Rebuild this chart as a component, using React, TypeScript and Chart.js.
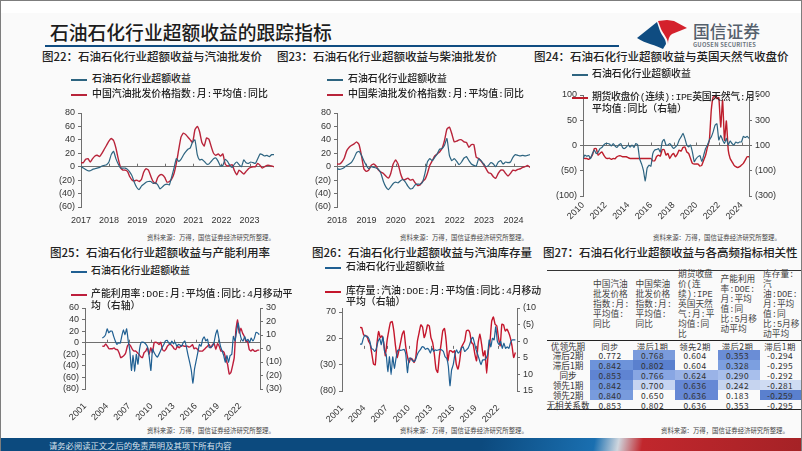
import React, { useEffect, useRef } from "react";
import { Chart, registerables } from "chart.js";
Chart.register(...registerables);

const excess22 = [0,-2,-4,-6,-6,-4,-3,-2,-1,1,2,3,7,18,23,12,4,-2,-2,-2,-4,-8,-14,-24,-31,-34,-29,-26,-23,-22,-22,-25,-24,-27,-33,-30,-27,-26,-27,-15,-2,12,8,11,17,22,26,28,37,40,18,10,11,8,4,4,8,12,13,8,1,2,11,8,2,-1,4,7,3,0,10,6,5,7,6,5,12,19,18,16,17,15,18,18];
const gasoline22 = [6,6,11,12,7,12,16,17,15,20,26,32,38,42,39,28,12,-1,-5,-5,-7,-15,-20,-21,-20,-22,-19,-8,-3,-5,-14,-22,-25,-16,-12,-12,-16,-23,-22,-18,-10,5,25,44,50,48,44,40,36,55,60,52,36,31,43,41,30,20,17,19,16,19,4,1,2,3,-6,-12,-5,-8,-11,-7,-3,-1,0,0,5,2,-2,0,2,2,1,0];
const excess23 = [-3,-4,-3,-1,2,4,7,13,21,23,17,9,2,-3,0,-1,-2,-4,-10,-22,-30,-34,-30,-25,-23,-24,-21,-19,-23,-29,-33,-32,-27,-26,-26,-23,-10,7,12,9,14,19,26,27,32,42,17,9,12,8,3,7,13,15,9,4,2,1,12,9,4,0,2,6,4,0,7,9,4,7,6,7,14,18,17,16,17,16,17,18];
const diesel23 = [4,4,7,13,24,29,32,34,37,33,17,-3,-7,-5,2,4,1,-5,-8,-10,-14,-17,-10,4,10,4,-10,-19,-19,-17,-20,-19,-24,-28,-27,-22,-19,-10,2,9,16,19,22,27,39,56,59,49,37,38,40,40,37,36,29,33,33,14,12,8,3,-3,-9,-10,-15,-17,-10,-5,-5,-10,-14,-10,-5,-6,-4,-3,-1,0,2,-1];
const excess24 = [-26,-19,-21,-20,-26,-16,-9,-16,-13,-6,-4,1,4,4,3,-1,4,-1,-4,1,4,-4,-6,-3,1,-3,1,-4,4,1,-26,-36,-49,-70,-45,-39,-41,-16,-9,-8,-6,-13,7,12,1,1,4,-1,-6,-3,1,11,17,24,14,1,-3,1,-13,-32,-26,-22,-20,-32,-19,-6,1,11,17,27,40,43,11,20,11,4,14,1,9,4,1,7,5,7,7,18,16,18,14];
const gas24 = [3,-3,-3,-10,3,24,76,76,24,37,50,24,3,-3,0,-10,-3,-5,11,18,18,11,11,11,3,-3,-3,-3,-3,-3,-3,-3,-3,-3,-3,-3,-3,-21,-21,11,24,16,68,68,24,37,-3,24,37,11,32,63,55,84,89,50,37,-3,-42,-47,-47,-47,-63,-55,-16,24,89,142,379,484,489,471,479,247,458,142,295,63,-3,-29,-55,-68,-74,-68,-55,-42,-16,11,11];
const excess25 = [8,10,14,24,17,20,20,11,3,-3,0,-1,11,22,14,24,3,-14,-48,-22,-49,-20,-37,-11,1,1,0,-3,-8,-25,-48,-11,-17,-22,-25,-20,-14,-8,-3,3,4,0,-3,3,-2,1,-6,-3,-4,-6,0,3,-8,-22,-34,-48,-70,-45,-31,-17,-3,-6,6,10,3,6,-8,-8,-6,0,14,22,8,-6,-14,-22,-34,-22,-34,-22,-20,11,3,20,34,17,6,3,11,3,6,0,8,3,8,18,17,14];
const utilisation25 = [1.7,1.7,3.4,1.7,-0.2,-0.2,-0.2,0.5,-0.7,-0.7,-3.1,-6.8,-6.1,-5.1,-3.1,1.7,3.4,1.7,-0.7,-1.9,-1.9,-3.1,-4.4,-6.1,-6.8,-3.1,-1.9,0.5,-4.4,0.5,-3.1,4.1,4.6,4.1,2.9,4.6,-0.7,-1.9,-0.7,1.7,2.9,2.9,1.7,-0.2,-0.7,1.7,0.5,1.7,2.2,1.7,1.7,1.7,1,1.7,2.9,-0.2,0.5,-0.7,-1.9,-1.9,-1.9,-0.7,0.5,1.7,2.9,0.5,2.9,3.6,-0.7,3.6,1.7,-1.9,-1.9,-3.1,-8,-11.6,-18.9,-17.7,-12.8,-6.8,13.8,21.1,11.4,15,11.4,9,5.3,5.3,-0.7,-1.9,-0.7,-1.9,-1.9,-1.2,-1.2];
const excess26 = [9,9,20,26,23,22,14,1,-1,-5,1,14,20,8,23,-5,-11,-43,-15,-49,-15,-37,-18,-3,-2,-3,-2,-1,-11,-45,-18,-18,-22,-24,-20,-11,-5,-1,4,3,-1,1,-1,-8,1,-5,-2,-3,-2,-1,-2,-5,-15,-18,-33,-70,-40,-30,-11,-2,-8,-5,1,4,-5,-2,1,8,18,22,11,-2,-11,-21,-30,-21,-21,-18,-11,17,4,20,17,42,14,8,14,1,11,1,4,1,11,17,17,17];
const stock26 = [-4.1,-4.1,-2.1,-1.6,-1.6,-0.1,0.9,3.9,6.9,7.1,0.9,-2.9,-1.1,-1.6,0.4,4.4,-0.1,-3.1,-5.6,-5.9,-3.1,1.4,4.9,2.9,0.4,-2.1,-3.1,1.4,4.4,6.4,5.1,5.4,6.4,4.9,-0.1,-2.6,-4.9,-4.3,-1.1,-2.6,-4.9,-4.6,-1.1,0.4,3.9,8.4,9.4,4.4,0.9,-3.1,-3.8,-0.1,5.9,2.9,2.9,3.4,2.9,6.9,8.4,5.9,1.9,0.9,-0.1,-3.1,-3.3,-2.6,0.4,0.9,3.9,5.9,0.4,-2.1,0.9,4.4,2.9,9.7,2.9,-0.1,-6.1,-7.3,-5.1,-4.6,-1.1,1.4,-5.1,-4.9,-3.1,-3.6,-2.6,-1.1,1.4,4.9,3.4];

const tableHeaders = [
  ["中国汽油","批发价格","指数:月:","平均值:","同比"],
  ["中国柴油","批发价格","指数:月:","平均值:","同比"],
  ["期货收盘","价(连","续):IPE","英国天然","气:月:平","均值:同","比"],
  ["产能利用","率:DOE:","月:平均","值:同","比:5月移","动平均"],
  ["库存量:","汽","油:DOE:","月:平均","值:同","比:5月移","动平均"],
];
const tableRowNames = ["优领先期","滞后2期","滞后1期","同步","领先1期","领先2期","无相关系数"];
const tableRows = [
  ["同步","滞后1期","领先2期","滞后2期","滞后1期"],
  ["0.772","0.768","0.604","0.353","-0.294"],
  ["0.842","0.802","0.604","0.328","-0.295"],
  ["0.853","0.766","0.624","0.290","-0.292"],
  ["0.842","0.700","0.636","0.242","-0.281"],
  ["0.840","0.650","0.636","0.183","-0.259"],
  ["0.853","0.802","0.636","0.353","-0.295"],
];
const tableFills = [
  ["","","","",""],
  ["","#7a9bdc","","#6a8dd6",""],
  ["#6d93da","#5a80ce","","#7c9fe0",""],
  ["#5f84d2","#88a6e3","#9ab3e7","#a8bfec",""],
  ["#6d93da","#c6d4f1","#6688d5","#c6d4ef","#cfdcf3"],
  ["#789bdd","","#6688d5","","#5a80ce"],
  ["","","","",""],
];

const neg = (v: number) => (v < 0 ? `(${-v})` : `${v}`);
const pts = (vals: number[], a: number, b: number) => vals.map((y, i) => ({ x: a + ((b - a) * i) / (vals.length - 1), y }));

const AXIS = "#6f6f6f";
const TEAL = "#2d6480";
const BLUE = "#1f5f92";
const RED = "#b8243a";
const tickFont = { family: "'Liberation Sans'", size: 9 };

const zeroTicks = {
  id: "zeroTicks",
  beforeDatasetsDraw(chart: any) {
    const { ctx, scales } = chart;
    const y0 = scales.y.getPixelForValue(0);
    ctx.save();
    ctx.strokeStyle = AXIS;
    ctx.lineWidth = 1;
    scales.x.ticks.forEach((t: any) => {
      const px = Math.round(scales.x.getPixelForValue(t.value)) + 0.5;
      ctx.beginPath();
      ctx.moveTo(px, y0);
      ctx.lineTo(px, y0 - 3);
      ctx.stroke();
    });
    ctx.restore();
  },
};

function fixed(list: number[] | undefined) {
  return list ? (s: any) => { s.ticks = list.map((value) => ({ value })); } : undefined;
}

type Spec = {
  rect: [number, number, number, number];
  yw: number; rw: number; padTop: number; xh: number; xPad: number;
  xMin: number; xMax: number; xStep: number; rotate: number;
  yMin: number; yMax: number; yStep: number; yTicks?: number[];
  r?: { min: number; max: number; step: number; ticks?: number[]; reverse?: boolean };
  a: { vals: number[]; from: number; to: number; color: string };
  b: { vals: number[]; from: number; to: number; color: string };
};

const specs: Spec[] = [
  { rect: [40, 100, 236, 127], yw: 41, rw: 2, padTop: 13, xh: 20, xPad: 8, xMin: 2017, xMax: 2023.87, xStep: 1, rotate: 0, yMin: -60, yMax: 80, yStep: 20,
    a: { vals: excess22, from: 2017, to: 2023.87, color: TEAL }, b: { vals: gasoline22, from: 2017, to: 2023.87, color: RED } },
  { rect: [296, 100, 236, 127], yw: 41, rw: 2, padTop: 13, xh: 20, xPad: 8, xMin: 2018, xMax: 2024.56, xStep: 1, rotate: 0, yMin: -60, yMax: 80, yStep: 20,
    a: { vals: excess23, from: 2018, to: 2024.56, color: TEAL }, b: { vals: diesel23, from: 2018, to: 2024.56, color: RED } },
  { rect: [540, 82, 262, 143], yw: 43, rw: 53, padTop: 13, xh: 29, xPad: 4, xMin: 2010, xMax: 2024.66, xStep: 2, rotate: 45, yMin: -100, yMax: 100, yStep: 50,
    r: { min: -300, max: 500, step: 200, ticks: [-300, -100, 100, 300, 500] },
    a: { vals: excess24, from: 2010, to: 2024.66, color: TEAL }, b: { vals: gas24, from: 2010, to: 2024.66, color: "#bd1e2c" } },
  { rect: [45, 298, 240, 126], yw: 40, rw: 25, padTop: 10, xh: 35, xPad: 12, xMin: 2001, xMax: 2024.7, xStep: 3, rotate: 45, yMin: -80, yMax: 60, yStep: 20,
    r: { min: -30, max: 30, step: 10 },
    a: { vals: excess25, from: 2003.35, to: 2024.6, color: BLUE }, b: { vals: utilisation25, from: 2003.35, to: 2024.6, color: "#bd1e3c" } },
  { rect: [310, 298, 226, 126], yw: 32, rw: 19, padTop: 10, xh: 33, xPad: 12, xMin: 2001, xMax: 2024.57, xStep: 3, rotate: 45, yMin: -80, yMax: 77.6, yStep: 50, yTicks: [-80, -30, 20, 70],
    r: { min: -10, max: 15, step: 5, reverse: true },
    a: { vals: excess26, from: 2003.43, to: 2024.35, color: BLUE }, b: { vals: stock26, from: 2003.43, to: 2024.35, color: "#c4162c" } },
];

function Panel({ spec }: { spec: Spec }) {
  const ref = useRef<HTMLCanvasElement>(null);
  useEffect(() => {
    const s = spec;
    const scales: any = {
      x: {
        type: "linear", min: s.xMin, max: s.xMax, border: { display: false },
        grid: { display: false, drawTicks: false },
        afterFit: (a: any) => { a.height = s.xh; },
        ticks: { stepSize: s.xStep, includeBounds: false, autoSkip: false, minRotation: s.rotate, maxRotation: s.rotate, padding: s.xPad, color: "#333", font: tickFont, callback: (v: any) => `${v}` },
      },
      y: {
        min: s.yMin, max: s.yMax, position: "left",
        border: { display: true, color: AXIS },
        grid: { color: (c: any) => (c.tick && c.tick.value === 0 ? AXIS : "transparent"), tickColor: AXIS, tickLength: 3 },
        afterFit: (a: any) => { a.width = s.yw; },
        afterBuildTicks: fixed(s.yTicks),
        ticks: { stepSize: s.yStep, includeBounds: false, autoSkip: false, padding: 3, color: "#333", font: tickFont, callback: (v: any) => neg(v) },
      },
    };
    if (s.r) {
      const r = s.r;
      scales.y2 = {
        min: r.min, max: r.max, position: "right", reverse: !!r.reverse,
        border: { display: true, color: AXIS },
        grid: { drawOnChartArea: false, tickColor: AXIS, tickLength: 3 },
        afterFit: (a: any) => { a.width = s.rw; },
        afterBuildTicks: fixed(r.ticks),
        ticks: { stepSize: r.step, includeBounds: false, autoSkip: false, padding: 3, color: "#333", font: tickFont, callback: (v: any) => neg(v) },
      };
    }
    const chart = new Chart(ref.current!, {
      type: "line",
      data: {
        datasets: [
          { data: pts(s.a.vals, s.a.from, s.a.to), borderColor: s.a.color, borderWidth: 1.2, pointRadius: 0, tension: 0.15, yAxisID: "y" },
          { data: pts(s.b.vals, s.b.from, s.b.to), borderColor: s.b.color, borderWidth: 1.4, pointRadius: 0, tension: 0.15, yAxisID: s.r ? "y2" : "y" },
        ],
      },
      options: {
        animation: false, responsive: false, parsing: true,
        layout: { padding: { top: s.padTop, right: s.r ? 0 : s.rw, left: 0, bottom: 0 } },
        plugins: { legend: { display: false }, tooltip: { enabled: false }, title: { display: false } },
        scales,
      } as any,
      plugins: [zeroTicks],
    });
    return () => chart.destroy();
  }, [spec]);
  const [l, t, w, h] = spec.rect;
  return <canvas ref={ref} width={w} height={h} style={{ position: "absolute", left: l, top: t, width: w, height: h }} />;
}

const CJK = "'Noto Sans CJK SC','Liberation Sans',sans-serif";
const MIX = "'Liberation Mono','Noto Sans CJK SC',sans-serif";

function T({ x, y, size, weight = 500, color = "#222", children, spacing = 0, center = false, family = CJK }: any) {
  return (
    <div style={{ position: "absolute", left: x, top: y, transform: center ? "translate(-50%,-50%)" : "translateY(-50%)", fontFamily: family, fontSize: size, fontWeight: weight, color, lineHeight: 1, whiteSpace: "nowrap", letterSpacing: spacing }}>
      {children}
    </div>
  );
}
function Key({ x, y, color }: any) {
  return <div style={{ position: "absolute", left: x, top: y - 1, width: 16, height: 1.5, background: color }} />;
}
function Leg({ x, y, children, spacing = 0 }: any) {
  return <T x={x} y={y} size={9.9} weight={500} family={MIX} spacing={spacing}>{children}</T>;
}

const SOURCE = "资料来源：万得，国信证券经济研究所整理。";
const HEAD = 11.5;

export default function App() {
  const colX = [590, 632.5, 675, 717.5, 760];
  return (
    <div style={{ position: "absolute", left: 0, top: 0, width: 802, height: 451, overflow: "hidden", background: "#fafafa" }}>
      <style>{"body{margin:0}"}</style>
      <div style={{ position: "absolute", left: 0, top: 0, width: 802, height: 13, background: "#ffffff" }} />
      <div style={{ position: "absolute", inset: 0, borderTop: "1.5px solid #7d7d7d", borderLeft: "1.5px solid #7d7d7d", borderRight: "1.5px solid #7d7d7d", zIndex: 5, pointerEvents: "none" }} />

      <T x={50} y={32} size={18.8} weight={500} color="#1c1c1c">石油石化行业超额收益的跟踪指标</T>
      <div style={{ position: "absolute", left: 45, top: 44.5, width: 574, height: 2.5, background: "#0f4c81" }} />

      <svg style={{ position: "absolute", left: 636, top: 18, width: 54, height: 32 }} viewBox="0 0 54 32">
        <path d="M1 20 L21 4 L24 13 C26 18 30 21 30 26 L27 31 C20 27 10 26 1 20 Z" fill="#0f4c81" />
        <path d="M22 3 L31 2 L38 3 L51 10 L36 16 C33 18 32 22 32 26 C32 20 27 16 25 11 Z" fill="#d4212c" />
      </svg>
      <T x={693} y={31} size={16.8} weight={500} color="#55606c">国信证券</T>
      <T x={693} y={44.5} size={5.8} weight={700} color="#6d7680" spacing={0.2}>GUOSEN SECURITIES</T>

      <T x={42} y={56.5} size={HEAD}>图22：石油石化行业超额收益与汽油批发价</T>
      <T x={277} y={56.5} size={HEAD}>图23：石油石化行业超额收益与柴油批发价</T>
      <T x={534} y={56.5} size={HEAD}>图24：石油石化行业超额收益与英国天然气收盘价</T>
      <T x={50} y={253} size={HEAD}>图25：石油石化行业超额收益与产能利用率</T>
      <T x={312} y={253} size={HEAD}>图26：石油石化行业超额收益与汽油库存量</T>
      <T x={543} y={253} size={HEAD}>图27：石油石化行业超额收益与各高频指标相关性</T>

      {specs.map((s, i) => <Panel key={i} spec={s} />)}

      <Key x={71} y={80} color={TEAL} /><Leg x={92} y={80}>石油石化行业超额收益</Leg>
      <Key x={71} y={95} color={RED} /><Leg x={92} y={95}>中国汽油批发价格指数:月:平均值:同比</Leg>
      <Key x={327} y={80} color={TEAL} /><Leg x={348} y={80}>石油石化行业超额收益</Leg>
      <Key x={327} y={95} color={RED} /><Leg x={348} y={95}>中国柴油批发价格指数:月:平均值:同比</Leg>
      <Key x={572} y={75} color={TEAL} /><Leg x={592} y={75}>石油石化行业超额收益</Leg>
      <Key x={572} y={98} color="#bd1e2c" /><Leg x={592} y={98} spacing={-0.35}>期货收盘价(连续):IPE英国天然气:月:</Leg>
      <Leg x={592} y={110}>平均值:同比（右轴）</Leg>
      <Key x={71} y={272} color={BLUE} /><Leg x={91} y={272}>石油石化行业超额收益</Leg>
      <Key x={71} y={295} color="#bd1e3c" /><Leg x={91} y={295}>产能利用率:DOE:月:平均值:同比:4月移动平</Leg>
      <Leg x={91} y={307}>均（右轴）</Leg>
      <Key x={325} y={268} color={BLUE} /><Leg x={346} y={268}>石油石化行业超额收益</Leg>
      <Key x={325} y={292} color="#c4162c" /><Leg x={346} y={292} spacing={-0.1}>库存量:汽油:DOE:月:平均值:同比:4月移动</Leg>
      <Leg x={346} y={303}>平均（右轴）</Leg>

      <T x={147} y={238} size={6.4} weight={400} color="#444">{SOURCE}</T>
      <T x={400} y={238} size={6.4} weight={400} color="#444">{SOURCE}</T>
      <T x={653} y={238} size={6.4} weight={400} color="#444">{SOURCE}</T>
      <T x={147} y={431} size={6.4} weight={400} color="#444">{SOURCE}</T>
      <T x={400} y={431} size={6.4} weight={400} color="#444">{SOURCE}</T>
      <T x={661} y={431} size={6.4} weight={400} color="#444">{SOURCE}</T>

      {/* correlation table */}
      <div style={{ position: "absolute", left: 547, top: 270, width: 255, height: 1, background: "#333" }} />
      <div style={{ position: "absolute", left: 547, top: 339.5, width: 255, height: 1.2, background: "#222" }} />
      <div style={{ position: "absolute", left: 547, top: 409, width: 255, height: 1.2, background: "#222" }} />
      {tableHeaders.map((lines, c) => (
        <div key={c} style={{ position: "absolute", left: colX[c] + 3, top: 305, transform: "translateY(-50%)", fontFamily: MIX, fontSize: 8.7, lineHeight: "10px", color: "#444", whiteSpace: "nowrap" }}>
          {lines.map((ln, i) => <div key={i}>{ln}</div>)}
        </div>
      ))}
      {tableRowNames.map((name, r) => (
        <React.Fragment key={r}>
          <T x={568} y={345.5 + r * 9.95} size={8.6} weight={400} color="#333" center>{name}</T>
          {tableRows[r].map((v, c) => (
            <React.Fragment key={c}>
              {tableFills[r][c] ? <div style={{ position: "absolute", left: colX[c], top: 340.5 + r * 9.95, width: 42.5, height: 10, background: tableFills[r][c] }} /> : null}
              <T x={colX[c] + 20} y={345.5 + r * 9.95} size={8.4} weight={400} color="#333" center spacing={0.4}>{v}</T>
            </React.Fragment>
          ))}
        </React.Fragment>
      ))}

      <div style={{ position: "absolute", left: 0, top: 438, width: 802, height: 13, background: "linear-gradient(100deg,#0c4a7e 0,#0c4a7e 60%,#1a6fb0 74%,#cfd6de 77%,#c1272d 80%,#a52226 100%)" }} />
      <T x={49} y={444.5} size={8.3} weight={400} color="#d8e2ec">请务必阅读正文之后的免责声明及其项下所有内容</T>
    </div>
  );
}
